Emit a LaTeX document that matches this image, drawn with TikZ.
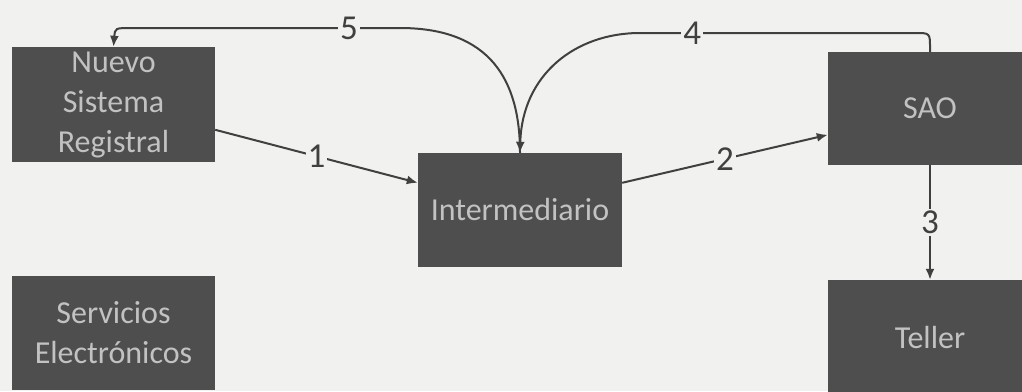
\documentclass[tikz,border=0pt]{standalone}
\usepackage{fontspec}
\setmainfont{Carlito}
\usetikzlibrary{arrows.meta,calc}
\definecolor{bg}{HTML}{F1F1EF}
\definecolor{boxfill}{HTML}{4E4E4E}
\definecolor{boxtext}{HTML}{C2C2C2}
\definecolor{linecol}{HTML}{404040}
\begin{document}
\begin{tikzpicture}[x=1pt,y=-1pt,
  sysbox/.style={fill=boxfill, text=boxtext, minimum width=204pt, minimum height=114pt,
    inner sep=0pt, align=center, font=\fontsize{32}{40}\selectfont},
  flow/.style={draw=linecol, line width=2pt, -{Latex[length=11pt,width=9pt]}},
  numlab/.style={fill=bg, inner sep=2pt, text=linecol, font=\fontsize{35}{40}\selectfont}]
\fill[bg] (0,0) rectangle (1022,391);
\useasboundingbox (0,0) rectangle (1022,391);
\clip (0,0) rectangle (1022,391);
\node[sysbox, minimum width=203pt, minimum height=115pt] (nsr) at (113.5,104.5) {Nuevo\\Sistema\\Registral};
\node[sysbox, minimum width=203pt] (se) at (113.5,333) {Servicios\\Electrónicos};
\node[sysbox] (int) at (520,210) {Intermediario};
\node[sysbox, minimum height=113pt] (sao) at (930,108.5) {SAO};
\node[sysbox] (tel) at (930,337) {Teller};
\draw[flow] ($(nsr.north east)+(0,83)$) -- node[numlab]{1} ($(int.north west)+(0,30)$);
\draw[flow] ($(int.north east)+(0,30)$) -- node[numlab]{2} ($(sao.north west)+(0,83)$);
\draw[flow] (sao.south) -- node[numlab]{3} (tel.north);
\draw[flow] (sao.north) -- (930,48) .. controls (930,33) .. (915,33)
  -- node[numlab, pos=0.81]{4} (640,33) .. controls (575,33) and (522,75) .. (int.north);
\draw[flow] (int.north) .. controls (520,80) and (490,28) .. (400,28)
  -- node[numlab, pos=0.19]{5} (132,28) .. controls (115,28) .. (nsr.north);
\end{tikzpicture}
\end{document}
